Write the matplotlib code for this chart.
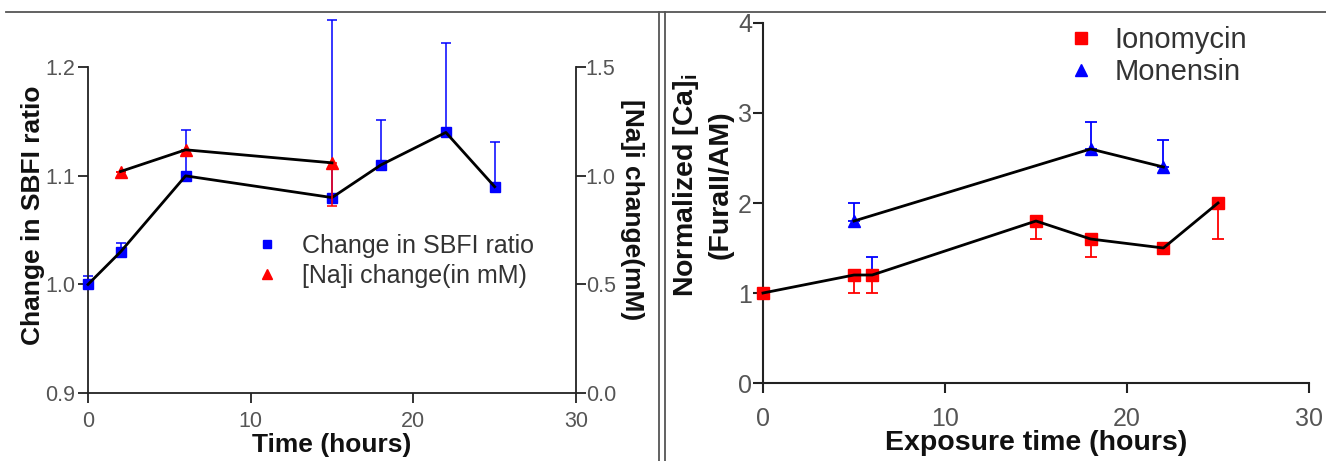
import matplotlib
matplotlib.use("Agg")
import matplotlib.pyplot as plt
from matplotlib.lines import Line2D
import numpy as np

plt.rcParams['font.family'] = ['Liberation Sans', 'DejaVu Sans']
plt.rcParams['mathtext.fontset'] = 'custom'
plt.rcParams['mathtext.rm'] = 'Liberation Sans'
plt.rcParams['mathtext.bf'] = 'Liberation Sans:bold'

# ---------------- data: left panel ----------------
time_sbfi = [0, 2, 6, 15, 18, 22, 25]
sbfi_ratio = [1.00, 1.03, 1.10, 1.08, 1.11, 1.14, 1.09]
sbfi_err_up = [0.008, 0.008, 0.042, 0.164, 0.041, 0.082, 0.041]

time_na = [2, 6, 15]
na_change = [1.02, 1.12, 1.06]
na_err_low = [0.0, 0.0, 0.20]

left_xticks = [0, 10, 20, 30]
left_yticks = [0.9, 1.0, 1.1, 1.2]
right_yticks = [0.0, 0.5, 1.0, 1.5]

# ---------------- data: right panel ----------------
time_iono = [0, 5, 6, 15, 18, 22, 25]
iono = [1.0, 1.2, 1.2, 1.8, 1.6, 1.5, 2.0]
iono_err_low = [0.0, 0.2, 0.2, 0.2, 0.2, 0.06, 0.4]
iono_err_up_blue = [0.0, 0.0, 0.2, 0.0, 0.0, 0.0, 0.0]

time_mon = [5, 18, 22]
mon = [1.8, 2.6, 2.4]
mon_err_up = [0.2, 0.3, 0.3]

rp_xticks = [0, 10, 20, 30]
rp_yticks = [0, 1, 2, 3, 4]

BLUE = '#0000ff'
RED = '#ff0000'
TICKC = '#555555'
TXTC = '#333333'
LABC = '#111111'

W, H = 1326, 461
fig = plt.figure(figsize=(W / 100, H / 100), dpi=100)


def px(x0, y_top, x1, y_bot):
    return [x0 / W, 1 - y_bot / H, (x1 - x0) / W, (y_bot - y_top) / H]


# ================= LEFT PANEL =================
ax = fig.add_axes(px(88, 13, 576, 393))
ax.set_xlim(0, 30)
ax.set_ylim(0.9, 1.25)
axr = ax.twinx()
axr.set_ylim(0.0, 1.75)

for a in (ax, axr):
    a.patch.set_visible(False)
    for s in a.spines.values():
        s.set_linewidth(1.3)
        s.set_color('#222222')
    a.spines['top'].set_visible(False)

ax.spines['right'].set_visible(False)
axr.spines['left'].set_visible(False)
axr.spines['bottom'].set_visible(False)
ax.spines['left'].set_bounds(0.9, 1.2)
axr.spines['right'].set_bounds(0.0, 1.5)

ax.set_xticks(left_xticks)
ax.set_yticks(left_yticks)
ax.set_yticklabels([f"{v:.1f}" for v in left_yticks])
axr.set_yticks(right_yticks)
axr.set_yticklabels([f"{v:.1f}" for v in right_yticks])

ax.tick_params(axis='both', direction='out', length=7, width=1.3, color='#222222',
               labelsize=15.5, labelcolor=TICKC)
ax.tick_params(axis='y', pad=2)
ax.tick_params(axis='x', pad=6)
axr.tick_params(axis='y', direction='out', length=7, width=1.3, color='#222222',
                labelsize=15.5, labelcolor=TICKC, pad=0)

# SBFI series
ax.errorbar(time_sbfi, sbfi_ratio, yerr=[np.zeros(len(sbfi_err_up)), sbfi_err_up],
            fmt='none', ecolor=BLUE, elinewidth=1.1, capsize=3.6, capthick=1.1,
            zorder=2, clip_on=False)
ax.plot(time_sbfi, sbfi_ratio, ls='none', marker='s', ms=7.5, color=BLUE, zorder=3,
        clip_on=False)
ax.plot(time_sbfi, sbfi_ratio, color='black', lw=2.0, zorder=4, clip_on=False)

# Na series (right axis)
axr.errorbar(time_na, na_change, yerr=[na_err_low, np.zeros(len(na_err_low))],
             fmt='none', ecolor=RED, elinewidth=1.1, capsize=3.6, capthick=1.1, zorder=2)
axr.plot(time_na, na_change, ls='none', marker='^', ms=8, color=RED, zorder=3)
axr.plot(time_na, na_change, color='black', lw=2.0, zorder=4)

ax.set_xlabel('Time (hours)', fontsize=19, fontweight='bold', color=LABC)
ax.xaxis.set_label_coords(0.5, -0.105)
ax.set_ylabel('Change in SBFI ratio', fontsize=19, fontweight='bold', color=LABC)
ax.yaxis.set_label_coords(-0.088, (393 - 215) / 380)
axr.set_ylabel('[Na]i change(mM)', fontsize=19, fontweight='bold', color=LABC,
               rotation=270, va='bottom')
axr.yaxis.set_label_coords(1 + (620 - 576) / 488, (393 - 210) / 380)

hl = [Line2D([], [], ls='none', marker='s', ms=6, color=BLUE),
      Line2D([], [], ls='none', marker='^', ms=6.5, color=RED)]
leg = fig.legend(hl, ['Change in SBFI ratio', '[Na]i change(in mM)'],
                 loc='center left', bbox_to_anchor=(254 / W, 1 - 261 / H),
                 frameon=False, fontsize=18, handlelength=1.0, handletextpad=0.9,
                 labelspacing=0.25, borderpad=0, borderaxespad=0, labelcolor=TXTC)

# ================= RIGHT PANEL =================
bx = fig.add_axes(px(763, 23, 1309, 383))
bx.set_xlim(0, 30)
bx.set_ylim(0, 4)
bx.patch.set_visible(False)
for s in ('top', 'right'):
    bx.spines[s].set_visible(False)
for s in ('left', 'bottom'):
    bx.spines[s].set_linewidth(1.5)
    bx.spines[s].set_color('#222222')
bx.set_xticks(rp_xticks)
bx.set_yticks(rp_yticks)
bx.tick_params(axis='both', direction='out', length=7, width=1.5, color='#222222',
               labelsize=18, labelcolor=TICKC)
bx.tick_params(axis='y', pad=1)
bx.tick_params(axis='x', pad=10)

bx.errorbar(time_iono, iono, yerr=[iono_err_low, np.zeros(len(iono_err_low))],
            fmt='none', ecolor=RED, elinewidth=1.3, capsize=4.5, capthick=1.3, zorder=2)
bx.errorbar(time_iono, iono, yerr=[np.zeros(len(iono_err_up_blue)), iono_err_up_blue],
            fmt='none', ecolor=BLUE, elinewidth=1.3, capsize=4.5, capthick=1.3, zorder=2)
bx.errorbar(time_mon, mon, yerr=[np.zeros(len(mon_err_up)), mon_err_up],
            fmt='none', ecolor=BLUE, elinewidth=1.3, capsize=4.5, capthick=1.3, zorder=2)
bx.plot(time_iono, iono, ls='none', marker='s', ms=8.5, color=RED, zorder=3, clip_on=False)
bx.plot(time_mon, mon, ls='none', marker='^', ms=8.5, color=BLUE, zorder=3, clip_on=False)
bx.plot(time_iono, iono, color='black', lw=2.0, zorder=4, clip_on=False)
bx.plot(time_mon, mon, color='black', lw=2.0, zorder=4, clip_on=False)

bx.set_xlabel('Exposure time (hours)', fontsize=20.5, fontweight='bold', color=LABC)
bx.xaxis.set_label_coords(0.5, -0.13)
bx.set_ylabel('Normalized [Ca]$_{\\mathbf{i}}$\n(FuraII/AM)', fontsize=20.5,
              fontweight='bold', color=LABC, linespacing=1.35)
bx.yaxis.set_label_coords(-(763 - 734) / 546, (383 - 185) / 360)

hl2 = [Line2D([], [], ls='none', marker='s', ms=8, color=RED),
       Line2D([], [], ls='none', marker='^', ms=8, color=BLUE)]
fig.legend(hl2, ['Ionomycin', 'Monensin'], loc='center left',
           bbox_to_anchor=(1066 / W, 1 - 56 / H), frameon=False, fontsize=21,
           handlelength=1.0, handletextpad=0.67, labelspacing=0.12, borderpad=0,
           borderaxespad=0, labelcolor=TXTC)

# ================= frame lines =================
fig.add_artist(Line2D([6 / W, 1], [1 - 12 / H, 1 - 12 / H], color='#555555', lw=1.3))
fig.add_artist(Line2D([659 / W, 659 / W], [0, 1 - 12 / H], color='#555555', lw=1.3))
fig.add_artist(Line2D([665 / W, 665 / W], [0, 1 - 12 / H], color='#555555', lw=1.3))

fig.savefig('out.png', dpi=100)
